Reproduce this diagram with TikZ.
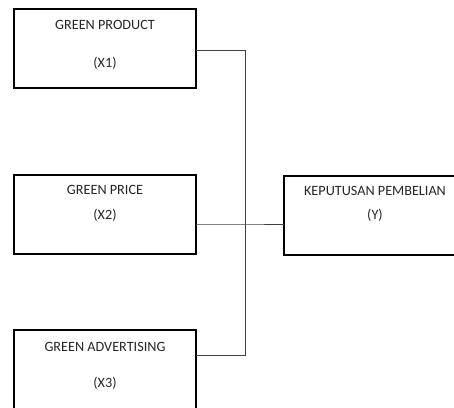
\documentclass[tikz,border=0pt]{standalone}
\usepackage{fontspec}
\setmainfont{Carlito}
\usetikzlibrary{positioning}

\begin{document}
\begin{tikzpicture}[x=1pt, y=-1pt, font=\fontsize{14.2}{17}\selectfont]
    \tikzset{
        varbox/.style={draw, line width=2pt, minimum width=182pt, minimum height=79pt, inner sep=0pt, outer sep=0pt, anchor=north west},
        lbl/.style={inner sep=0pt, text=black!85},
        link/.style={draw=black!75, line width=0.8pt},
    }
    % frame of the picture
    \useasboundingbox (0,0) rectangle (454,407);
    \clip (0,0) rectangle (454,407);

    % variable boxes
    \node[varbox] (x1) at (14,9) {};
    \node[varbox] (x2) at (14,175) {};
    \node[varbox] (x3) at (14,330) {};
    \node[varbox] (y) at (284,176) {};

    \node[lbl, below=11pt of x1.north] (x1t) {GREEN PRODUCT};
    \node[lbl, below=48pt of x1.north] (x1s) {(X1)};
    \node[lbl, below=10pt of x2.north] (x2t) {GREEN PRICE};
    \node[lbl, below=34pt of x2.north] (x2s) {(X2)};
    \node[lbl, below=12pt of x3.north] (x3t) {GREEN ADVERTISING};
    \node[lbl, below=47pt of x3.north] (x3s) {(X3)};
    \node[lbl, below=10pt of y.north] (yt) {KEPUTUSAN PEMBELIAN};
    \node[lbl, below=33pt of y.north] (ys) {(Y)};

    % connectors
    \coordinate (j1) at (245,50);
    \coordinate (j) at (245,224);
    \coordinate (j3) at (245,355);
    \draw[link] (x1.east |- j1) -- (j1) -- (j3) -- (x3.east |- j3);
    \draw[link] (x2.east |- j) -- (j) -- (y.west |- j);
\end{tikzpicture}
\end{document}
